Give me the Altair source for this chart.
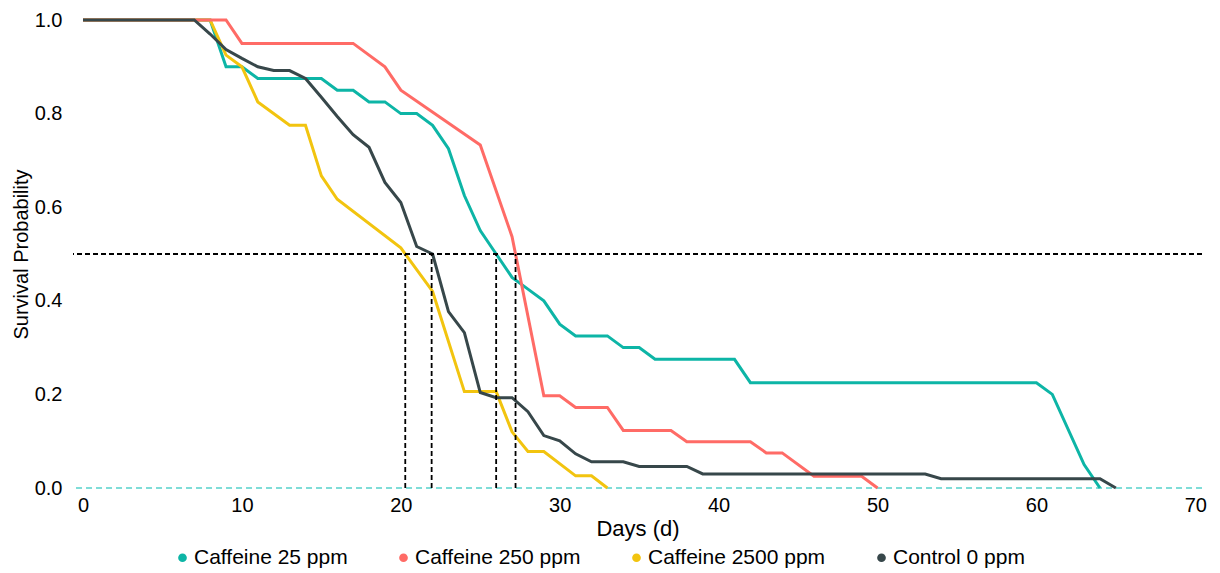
import altair as alt
import pandas as pd

# ---- data ----
series_names = ["Caffeine 25 ppm", "Caffeine 250 ppm", "Caffeine 2500 ppm", "Control 0 ppm"]
series_colors = ["#0DB5A6", "#FF6B66", "#F2C40F", "#37474A"]

days_25 = [0, 8, 9, 10, 11, 15, 16, 17, 18, 19, 20, 21, 22, 23, 24, 25, 26, 27, 28, 29,
           30, 31, 33, 34, 35, 36, 41, 42, 60, 61, 63, 64]
surv_25 = [1.0, 1.0, 0.9, 0.9, 0.875, 0.875, 0.85, 0.85, 0.825, 0.825, 0.8, 0.8, 0.775,
           0.725, 0.625, 0.55, 0.5, 0.45, 0.425, 0.4, 0.35, 0.325, 0.325, 0.3, 0.3, 0.275,
           0.275, 0.225, 0.225, 0.2, 0.05, 0.0]

days_250 = [0, 9, 10, 17, 19, 20, 25, 27, 29, 30, 31, 33, 34, 37, 38, 42, 43, 44, 46, 49, 50]
surv_250 = [1.0, 1.0, 0.95, 0.95, 0.9, 0.85, 0.733, 0.537, 0.197, 0.197, 0.172, 0.172,
            0.123, 0.123, 0.099, 0.099, 0.075, 0.075, 0.025, 0.025, 0.0]

days_2500 = [0, 8, 9, 10, 11, 13, 14, 15, 16, 20, 22, 24, 26, 27, 28, 29, 31, 32, 33]
surv_2500 = [1.0, 1.0, 0.925, 0.9, 0.825, 0.775, 0.775, 0.667, 0.617, 0.513, 0.42, 0.206,
             0.206, 0.12, 0.078, 0.078, 0.026, 0.026, 0.0]

days_0 = [0, 7, 8, 9, 10, 11, 12, 13, 14, 15, 16, 17, 18, 19, 20, 21, 22, 23, 24, 25, 26,
          27, 28, 29, 30, 31, 32, 34, 35, 38, 39, 53, 54, 64, 65]
surv_0 = [1.0, 1.0, 0.97, 0.937, 0.918, 0.9, 0.892, 0.892, 0.875, 0.835, 0.794, 0.755,
          0.728, 0.653, 0.61, 0.516, 0.5, 0.377, 0.332, 0.204, 0.193, 0.193, 0.163, 0.112,
          0.101, 0.073, 0.056, 0.056, 0.046, 0.046, 0.03, 0.03, 0.02, 0.02, 0.0]

median_days = [20.28, 21.94, 26.0, 27.22]
median_level = 0.5

x_ticks = [0, 10, 20, 30, 40, 50, 60, 70]
y_ticks = [0.0, 0.2, 0.4, 0.6, 0.8, 1.0]

# ---- build tables ----
series_data = {
    "Caffeine 25 ppm": (days_25, surv_25),
    "Caffeine 250 ppm": (days_250, surv_250),
    "Caffeine 2500 ppm": (days_2500, surv_2500),
    "Control 0 ppm": (days_0, surv_0),
}
rows = []
for name, (dd, ss) in series_data.items():
    for d, s in zip(dd, ss):
        rows.append({"series": name, "day": d, "surv": s})
df = pd.DataFrame(rows)

FONT = "Liberation Sans"
W, H = 1129, 468

xscale = alt.Scale(domain=[-0.63, 70.42], nice=False, zero=False)
yscale = alt.Scale(domain=[0, 1], nice=False)
color_scale = alt.Scale(domain=series_names, range=series_colors)

x_enc = alt.X("day:Q", scale=xscale,
              axis=alt.Axis(values=x_ticks, title="Days (d)", format="d",
                            grid=False, domain=False, ticks=False, tickSize=0,
                            labelPadding=7, labelFontSize=20, labelColor="black",
                            titleFontSize=22, titleFontWeight="normal", titleColor="black",
                            titleBaseline="middle", titleY=40))
y_enc = alt.Y("surv:Q", scale=yscale,
              axis=alt.Axis(values=y_ticks, title="Survival Probability", format=".1f",
                            grid=False, domain=False, ticks=False, tickSize=0,
                            labelPadding=11, labelFontSize=20, labelColor="black",
                            titleFontSize=20, titleFontWeight="normal", titleColor="black",
                            titleBaseline="middle", titleX=-52, titleY=234))
legend = alt.Legend(title=None, orient="none", legendX=99, legendY=527,
                    direction="horizontal", columns=4, columnPadding=45,
                    symbolType="circle", symbolSize=75, symbolOpacity=1,
                    symbolStrokeWidth=0,
                    labelFontSize=21, labelColor="black", labelOffset=1,
                    labelLimit=400)

draw_order = ["Caffeine 25 ppm", "Caffeine 2500 ppm", "Caffeine 250 ppm", "Control 0 ppm"]
layers = []

# invisible filled-circle layer that supplies the legend symbols
legend_pts = alt.Chart(df).mark_circle(opacity=0, size=1).encode(
    x=x_enc, y=y_enc, color=alt.Color("series:N", scale=color_scale, legend=legend))
layers.append(legend_pts)

zero_line = alt.Chart(pd.DataFrame({"y": [0.0]})).mark_rule(
    color="#7FDDD8", strokeDash=[6, 4], strokeWidth=2).encode(y=alt.Y("y:Q", scale=yscale))
layers.append(zero_line)

for name in draw_order:
    layers.append(
        alt.Chart(df).transform_filter(alt.datum.series == name)
        .mark_line(strokeWidth=3, strokeJoin="miter")
        .encode(x=x_enc, y=y_enc,
                color=alt.Color("series:N", scale=color_scale, legend=legend),
                order=alt.Order("day:Q"))
    )

half_line = alt.Chart(pd.DataFrame({"y": [median_level]})).mark_rule(
    color="black", strokeDash=[5, 3], strokeWidth=1.8).encode(y=alt.Y("y:Q", scale=yscale))
layers.append(half_line)

vdf = pd.DataFrame({"x": median_days, "y0": [0.0] * len(median_days),
                    "y1": [median_level] * len(median_days)})
vlines = alt.Chart(vdf).mark_rule(color="black", strokeDash=[5, 3], strokeWidth=1.8).encode(
    x=alt.X("x:Q", scale=xscale), y=alt.Y("y0:Q", scale=yscale), y2="y1:Q")
layers.append(vlines)

chart = alt.layer(*layers).properties(
    width=W, height=H,
    autosize=alt.AutoSizeParams(type="none"),
    padding={"left": 65, "top": 12, "right": 10, "bottom": 85},
).configure(font=FONT).configure_view(stroke=None)

chart.save("out.html", embed_options={"renderer": "svg", "actions": False})
